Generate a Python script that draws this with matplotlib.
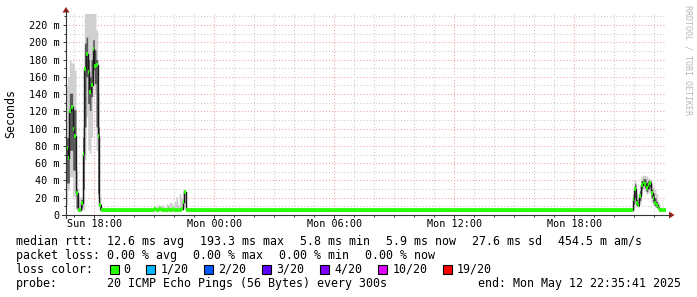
import numpy as np
import matplotlib
matplotlib.use("Agg")
import matplotlib.pyplot as plt
from matplotlib.lines import Line2D
from matplotlib.patches import Polygon, Rectangle

# ---------------- data (milliseconds) ----------------
n_steps = 360                 # 30 h of 5-minute steps
t_start = 16 + 35 / 60        # Sun 16:35 (hours since Sun 00:00)
baseline_rtt = 5.9            # flat median level

# first burst (steps 0..20)
med_left = [77, 66, 120, 125, 100, 91, 25, 5.8, 5.8, 13.5, 71, 169, 186, 166, 142, 150, 192, 172, 174, 91, 12]
lo_left = [12, 29, 44, 44, 21, 21, 6, 5, 5, 6, 6, 64, 114, 75, 71, 90, 160, 141, 75, 21, 5]
hi_left = [150, 160, 180, 176, 176, 168, 52, 21, 21, 21, 102, 240, 240, 240, 240, 240, 240, 240, 214, 141, 21]
qlo_left = [37, 37, 75, 75, 52, 52, 8, 5, 5, 8, 30, 102, 160, 129, 121, 137, 168, 152, 102, 25, 6]
qhi_left = [90, 90, 141, 141, 122, 122, 30, 8, 8, 18, 90, 199, 206, 180, 160, 180, 203, 191, 180, 102, 13]

# small activity before midnight (steps 52..71)
mid_first = 52
med_mid = [5.9, 6.4, 5.9, 5.9, 6.4, 5.9, 5.9, 5.9, 5.9, 6.4, 5.9, 5.9, 6.6, 5.9, 6.2, 5.9, 5.9, 6.4, 15, 27]
lo_mid = [5.5, 5.5, 5.5, 5.5, 5.5, 5.5, 5.5, 5.5, 5.5, 5.5, 5.5, 5.5, 5.5, 5.5, 5.5, 5.5, 5.5, 5.5, 8, 12]
hi_mid = [9, 10, 9, 12, 11, 12, 10, 9, 13, 12, 15, 14, 10, 16, 21, 12, 25, 20, 29, 29]

# evening bump (steps 340..356)
right_first = 340
med_right = [18, 30, 14, 12, 22, 35, 38, 36, 31, 35, 37, 25, 20, 14, 12, 8, 6]
lo_right = [8, 12, 10, 9, 14, 25, 30, 28, 24, 26, 28, 15, 12, 9, 8, 6, 5.5]
hi_right = [25, 40, 25, 20, 35, 45, 46, 46, 45, 43, 42, 36, 32, 30, 25, 15, 8]
qlo_right = [12, 20, 11, 10, 17, 30, 34, 32, 27, 30, 32, 20, 15, 11, 9, 7, 5.8]
qhi_right = [22, 36, 18, 15, 28, 40, 42, 42, 38, 40, 40, 30, 25, 20, 16, 10, 6]

y_ticks = [0, 20, 40, 60, 80, 100, 120, 140, 160, 180, 200, 220]
y_labels = ["0", "20 m", "40 m", "60 m", "80 m", "100 m", "120 m", "140 m",
            "160 m", "180 m", "200 m", "220 m"]
x_ticks = [18, 24, 30, 36, 42]
x_labels = ["Sun 18:00", "Mon 00:00", "Mon 06:00", "Mon 12:00", "Mon 18:00"]

loss_labels = ["0", "1/20", "2/20", "3/20", "4/20", "10/20", "19/20"]
loss_colors = ["#26ff00", "#00b8ff", "#0059ff", "#5e00ff", "#7e00ff", "#dd00ff", "#ff0000"]

# ---------------- assemble series ----------------
median = np.full(n_steps, baseline_rtt)
lo = np.full(n_steps, baseline_rtt)
hi = np.full(n_steps, baseline_rtt)
qlo = np.full(n_steps, baseline_rtt)
qhi = np.full(n_steps, baseline_rtt)

def put(arr, start, vals):
    arr[start:start + len(vals)] = vals

put(median, 0, med_left); put(lo, 0, lo_left); put(hi, 0, hi_left)
put(qlo, 0, qlo_left); put(qhi, 0, qhi_left)
put(median, mid_first, med_mid); put(lo, mid_first, lo_mid); put(hi, mid_first, hi_mid)
put(qlo, mid_first, med_mid); put(qhi, mid_first, med_mid)
put(median, right_first, med_right); put(lo, right_first, lo_right); put(hi, right_first, hi_right)
put(qlo, right_first, qlo_right); put(qhi, right_first, qhi_right)

edges = t_start + np.arange(n_steps + 1) / 12.0
t_end = edges[-1]

def ext(a):
    return np.append(a, a[-1])

# ---------------- figure ----------------
W, H = 697, 297
fig = plt.figure(figsize=(W / 100, H / 100), dpi=100)
fig.patch.set_facecolor("white")

def fx(x):
    return x / W

def fy(y):
    return 1 - y / H

ax = fig.add_axes([fx(66), fy(215), 600 / W, (215 - 14) / H])
ax.set_facecolor("white")
ax.set_xlim(t_start, t_end)
ax.set_ylim(0, 232.7)
for s in ax.spines.values():
    s.set_visible(False)

# grid
dot = (0, (1.0, 2.0))
for v in range(10, 240, 10):
    major = v % 20 == 0
    ax.axhline(v, color="#f2a0a0" if major else "#c8c8c8", lw=0.75, ls=dot, zorder=0.5)
for h in range(17, 47):
    major = h % 6 == 0
    ax.axvline(h, color="#f2a0a0" if major else "#c8c8c8", lw=0.75, ls=dot, zorder=0.5)

# smoke
ax.fill_between(edges, ext(lo), ext(hi), step="post", color="#d0d0d0", lw=0, zorder=1)
ax.fill_between(edges, ext(qlo), ext(qhi), step="post", color="#5a5a5a", lw=0, zorder=1.5)

# median line (dark, stepped) and loss-coloured segments
ax.step(edges, ext(median), where="post", color="#1a1a1a", lw=1.0, zorder=2)
ax.hlines(median, edges[:-1], edges[1:], color=loss_colors[0], lw=2.7, zorder=3,
          capstyle="butt")

# ticks
ax.set_yticks(y_ticks)
ax.set_yticklabels(y_labels)
ax.set_yticks(list(range(10, 240, 20)), minor=True)
ax.set_xticks(x_ticks)
ax.set_xticklabels(x_labels)
ax.set_xticks(list(range(17, 47)), minor=True)
mono = "DejaVu Sans Mono"
ax.tick_params(axis="both", which="major", length=2.2, width=0.7, color="#333333",
               labelsize=7.3, labelcolor="black", direction="out")
ax.tick_params(axis="both", which="minor", length=1.5, width=0.7, color="#333333",
               direction="out")
ax.tick_params(axis="y", which="major", pad=2.4)
ax.tick_params(axis="x", which="major", pad=1.0)
for lab in ax.get_xticklabels() + ax.get_yticklabels():
    lab.set_family(mono)

# axes lines and arrows
axis_col = "#333333"
fig.add_artist(Line2D([fx(62), fx(670)], [fy(215), fy(215)], color=axis_col, lw=0.8))
fig.add_artist(Line2D([fx(66), fx(66)], [fy(218), fy(10)], color=axis_col, lw=0.8))
arrow_col = "#a01818"
fig.add_artist(Polygon([(fx(669), fy(211.5)), (fx(669), fy(218.5)), (fx(674.5), fy(215))],
                       closed=True, color=arrow_col, lw=0))
fig.add_artist(Polygon([(fx(62.5), fy(12.5)), (fx(69.5), fy(12.5)), (fx(66), fy(7))],
                       closed=True, color=arrow_col, lw=0))

# y-axis title and watermark
fig.text(fx(11), fy(114), "Seconds", rotation=90, family=mono, fontsize=8.4,
         ha="center", va="center")
fig.text(fx(688), fy(5), "RRDTOOL / TOBI OETIKER", rotation=270, family=mono,
         fontsize=6.0, color="#b8b8b8", ha="center", va="top")

# legend
fs = 8.4
def txt(x, y, s):
    fig.text(fx(x), fy(y), s, family=mono, fontsize=fs, ha="left", va="center")

y1, y2, y3, y4 = 241.3, 255.3, 269.3, 283.7
txt(16, y1, "median rtt:")
txt(107.3, y1, "12.6 ms avg")
txt(200, y1, "193.3 ms max")
txt(300, y1, "5.8 ms min")
txt(386, y1, "5.9 ms now")
txt(472.3, y1, "27.6 ms sd")
txt(558.3, y1, "454.5 m am/s")

txt(16, y2, "packet loss:")
txt(107.3, y2, "0.00 % avg")
txt(193.3, y2, "0.00 % max")
txt(279.3, y2, "0.00 % min")
txt(365, y2, "0.00 % now")

txt(16, y3, "loss color:")
sq_x = [109, 145.7, 203.3, 261.7, 319.3, 377.7, 442.3]
lab_x = [123.3, 160.7, 218.3, 276.7, 334, 392.3, 456.7]
for sx, lx, lab, col in zip(sq_x, lab_x, loss_labels, loss_colors):
    fig.add_artist(Rectangle((fx(sx + 0.5), fy(y3 + 4.5)), 9 / W, 9 / H,
                             facecolor=col, edgecolor="black", lw=0.8))
    txt(lx, y3, lab)

txt(16, y4, "probe:")
txt(107.3, y4, "20 ICMP Echo Pings (56 Bytes) every 300s")
txt(478.3, y4, "end: Mon May 12 22:35:41 2025")

fig.savefig("out.png", dpi=100, facecolor="white")
